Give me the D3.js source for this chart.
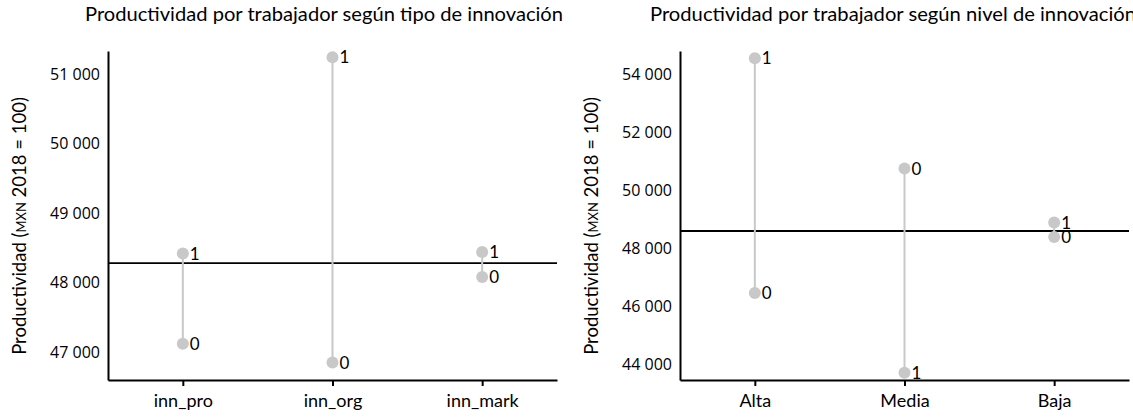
<!DOCTYPE html>
<html><head><meta charset="utf-8">
<script src="https://cdn.jsdelivr.net/npm/d3@7"></script>
<style>body{margin:0;background:#fff;overflow:hidden} text{font-family:Lato,"Open Sans",sans-serif;fill:#000}</style>
</head><body><svg id="c" width="1133" height="419"></svg>
<script>
// Panel 1: tipo de innovación
const tipoCategories = ["inn_pro", "inn_org", "inn_mark"];
const tipoValues1 = [48420, 51240, 48440];
const tipoValues0 = [47120, 46850, 48080];
const tipoMean = 48280;
const tipoTicks = [47000, 48000, 49000, 50000, 51000];

// Panel 2: nivel de innovación
const nivelCategories = ["Alta", "Media", "Baja"];
const nivelValues1 = [54550, 43700, 48880];
const nivelValues0 = [46450, 50750, 48380];
const nivelMean = 48590;
const nivelTicks = [44000, 46000, 48000, 50000, 52000, 54000];

const svg = d3.select("#c");
const fmt = v => d3.format(",")(v).replace(/,/g, " ");

function panel(o) {
  const g = svg.append("g");
  const x = d3.scalePoint().domain(o.cats).range([o.x0, o.x1]).padding(0.5);
  const y = d3.scaleLinear().domain(o.domain).range([o.y1, o.y0]);

  // title
  g.append("text").attr("x", o.titleX).attr("y", 21)
    .attr("font-size", 19).attr("textLength", o.titleLen).attr("lengthAdjust", "spacingAndGlyphs")
    .text(o.title);

  // y axis
  const ya = g.append("g").attr("transform", `translate(${o.x0},0)`)
    .call(d3.axisLeft(y).tickValues(o.ticks).tickFormat(fmt).tickSizeInner(0).tickSizeOuter(0).tickPadding(8));
  ya.select(".domain").attr("stroke", "#000").attr("stroke-width", 2);
  ya.selectAll("text").attr("font-size", 16).style("font-family", "'Open Sans'");

  // x axis
  const xa = g.append("g").attr("transform", `translate(0,${o.y1})`)
    .call(d3.axisBottom(x).tickSizeInner(6).tickSizeOuter(0).tickPadding(8));
  xa.select(".domain").attr("stroke", "#000").attr("stroke-width", 2);
  xa.selectAll(".tick line").attr("stroke", "#000").attr("stroke-width", 2);
  xa.selectAll("text").attr("font-size", 18).style("font-family", "Lato");

  // y title
  const t = g.append("text").attr("transform", `translate(${o.x0 - 82},226) rotate(-90)`)
    .attr("text-anchor", "middle").attr("font-size", 18.5);
  t.append("tspan").text("Productividad (");
  t.append("tspan").attr("font-size", 13).text("MXN");
  t.append("tspan").text(" 2018 = 100)");

  // mean line
  g.append("line").attr("x1", o.x0).attr("x2", o.x1).attr("y1", y(o.mean)).attr("y2", y(o.mean))
    .attr("stroke", "#000").attr("stroke-width", 1.8);

  const data = o.cats.map((c, i) => ({c, v1: o.v1[i], v0: o.v0[i]}));
  g.selectAll(".seg").data(data).join("line")
    .attr("x1", d => x(d.c)).attr("x2", d => x(d.c))
    .attr("y1", d => y(d.v1)).attr("y2", d => y(d.v0))
    .attr("stroke", "#c8c8c8").attr("stroke-width", 2);

  const pts = data.flatMap(d => [{c: d.c, v: d.v1, lab: "1"}, {c: d.c, v: d.v0, lab: "0"}]);
  g.selectAll(".dot").data(pts).join("circle")
    .attr("cx", d => x(d.c)).attr("cy", d => y(d.v)).attr("r", 6).attr("fill", "#c8c8c8");
  g.selectAll(".lab").data(pts).join("text")
    .attr("x", d => x(d.c) + 7).attr("y", d => y(d.v)).attr("dy", "0.36em")
    .attr("font-size", 17).text(d => d.lab);
}

panel({cats: tipoCategories, v1: tipoValues1, v0: tipoValues0, mean: tipoMean, ticks: tipoTicks,
  domain: [46600, 51330], x0: 108, x1: 557, y0: 51, y1: 380,
  title: "Productividad por trabajador según tipo de innovación", titleX: 85, titleLen: 478});
panel({cats: nivelCategories, v1: nivelValues1, v0: nivelValues0, mean: nivelMean, ticks: nivelTicks,
  domain: [43450, 54800], x0: 680, x1: 1129, y0: 51, y1: 380,
  title: "Productividad por trabajador según nivel de innovación", titleX: 650, titleLen: 486});
</script></body></html>
